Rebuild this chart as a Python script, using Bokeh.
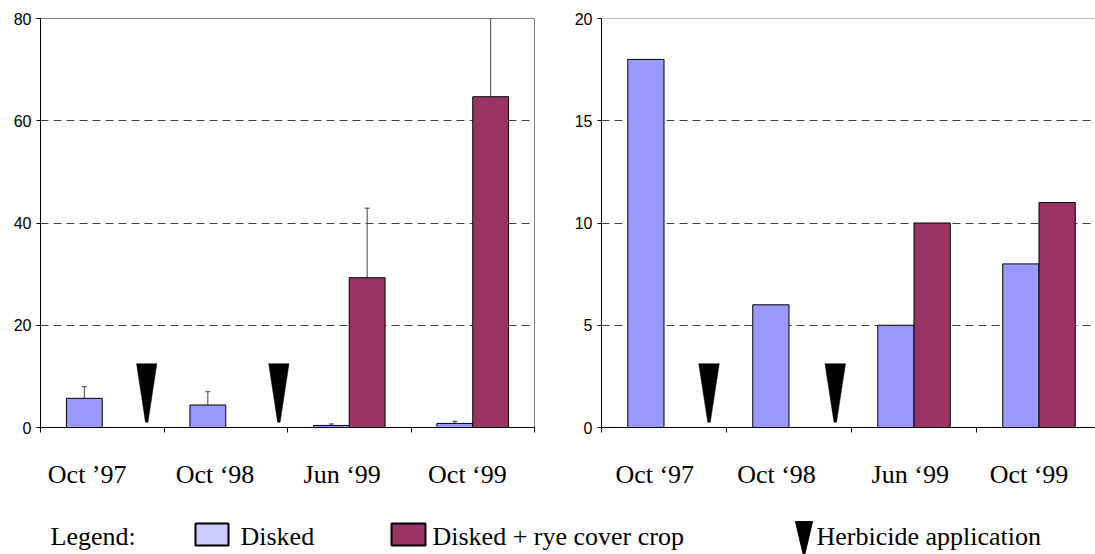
from bokeh.plotting import figure
from bokeh.models import FixedTicker, Range1d, Whisker, TeeHead, ColumnDataSource, Span
from bokeh.layouts import column, row
from bokeh.core.properties import value
from bokeh.embed import file_html
from bokeh.resources import INLINE

# ---- data -------------------------------------------------------------
left_labels = ["Oct \u201997", "Oct \u201898", "Jun \u201899", "Oct \u201899"]
right_labels = ["Oct \u201897", "Oct \u201898", "Jun \u201899", "Oct \u201899"]

left_disked = [5.7, 4.4, 0.4, 0.8]
left_disked_err = [2.3, 2.6, 0.3, 0.4]
left_rye = [None, None, 29.3, 64.7]
left_rye_err = [None, None, 13.6, 15.8]

right_disked = [18, 6, 5, 8]
right_rye = [None, None, 10, 11]

# herbicide applications, on the sampling-time axis (category units)
left_herbicide = [0.86, 1.93]
right_herbicide = [0.86, 1.87]

DISKED = "#9999FF"
RYE = "#993366"
SERIF = "Liberation Serif"
SANS = "Liberation Sans"
BAR_W = 0.29


def panel(labels, label_pos, disked, rye, herb, ymax, ystep, x_end,
          width, border_left, border_right, disked_err=None, rye_err=None,
          outline=True):
    p = figure(width=width, height=500, x_range=Range1d(0, x_end),
               y_range=Range1d(0, ymax), output_backend="svg",
               toolbar_location=None, min_border_left=border_left,
               min_border_right=border_right, min_border_top=18,
               min_border_bottom=73, background_fill_color="white",
               border_fill_color="white")

    # bars: Disked to the left of each category centre, rye to the right
    dx, dtop = [], []
    rx, rtop = [], []
    for i, (d, r) in enumerate(zip(disked, rye)):
        c = i + 0.5
        if d is not None:
            dx.append(c - BAR_W / 2)
            dtop.append(d)
        if r is not None:
            rx.append(c + BAR_W / 2)
            rtop.append(r)
    p.vbar(x=dx, top=dtop, bottom=0, width=BAR_W, fill_color=DISKED,
           line_color="black", line_width=1)
    p.vbar(x=rx, top=rtop, bottom=0, width=BAR_W, fill_color=RYE,
           line_color="black", line_width=1)

    # standard-error whiskers
    if disked_err is not None:
        ex, lo, hi = [], [], []
        for xs, vals, errs in ((dx, dtop, [e for e, d in zip(disked_err, disked) if d is not None]),
                               (rx, rtop, [e for e, r in zip(rye_err, rye) if r is not None])):
            for x, v, e in zip(xs, vals, errs):
                if e is None:
                    continue
                ex.append(x)
                lo.append(v)
                hi.append(v + e)
        src = ColumnDataSource(dict(x=ex, lower=lo, upper=hi))
        p.add_layout(Whisker(source=src, base="x", lower="lower", upper="upper",
                             dimension="height", line_color="#404040", line_width=1,
                             upper_head=TeeHead(size=5, line_color="#404040", line_width=1),
                             lower_head=None))

    # herbicide markers: narrow downward wedges
    top = ymax * 0.156
    tip = ymax * 0.0128
    hw = 0.082
    p.patches(xs=[[h - hw, h + hw, h + 0.01, h - 0.01] for h in herb],
              ys=[[top, top, tip, tip] for _ in herb],
              fill_color="black", line_color="black", line_width=0.5)

    # x axis: boundary ticks underneath, labels under each group
    ax = p.xaxis[0]
    ax.ticker = FixedTicker(ticks=label_pos, minor_ticks=[0, 1, 2, 3, 4])
    ax.major_label_overrides = {pos: lab for pos, lab in zip(label_pos, labels)}
    ax.major_tick_in = 0
    ax.major_tick_out = 0
    ax.minor_tick_in = 0
    ax.minor_tick_out = 5
    ax.minor_tick_line_color = "black"
    ax.axis_line_color = "black"
    ax.major_label_standoff = 27
    ax.major_label_text_font = SERIF
    ax.major_label_text_font_size = "26px"
    ax.major_label_text_color = "black"

    ay = p.yaxis[0]
    ay.ticker = FixedTicker(ticks=list(range(0, ymax + 1, ystep)), minor_ticks=[])
    ay.major_tick_in = 0
    ay.major_tick_out = 4
    ay.major_tick_line_color = "black"
    ay.axis_line_color = "black"
    ay.major_label_standoff = 5
    ay.major_label_text_font = SANS
    ay.major_label_text_font_size = "16px"
    ay.major_label_text_color = "black"

    p.xgrid.visible = False
    p.ygrid.ticker = FixedTicker(ticks=list(range(ystep, ymax, ystep)))
    p.ygrid.grid_line_color = "#404040"
    p.ygrid.grid_line_dash = "8 5"
    p.ygrid.grid_line_width = 1

    if outline:
        p.outline_line_color = "#808080"
    else:
        p.outline_line_color = None
        p.add_layout(Span(location=ymax, dimension="width",
                          line_color="#808080", line_width=1))
    return p


p1 = panel(left_labels, [0.378, 1.413, 2.443, 3.457], left_disked, left_rye,
           left_herbicide, 80, 20, 4, width=560, border_left=40,
           border_right=26, disked_err=left_disked_err, rye_err=left_rye_err)
p2 = panel(right_labels, [0.426, 1.40, 2.47, 3.42], right_disked, right_rye,
           right_herbicide, 20, 5, 494 / 125, width=535, border_left=41,
           border_right=0, outline=False)

# ---- legend strip --------------------------------------------------------
pl = figure(width=1095, height=54, x_range=Range1d(0, 1095), y_range=Range1d(0, 54),
            output_backend="svg", toolbar_location=None, min_border=0)
pl.axis.visible = False
pl.grid.visible = False
pl.outline_line_color = None

LEG_Y = 18
legend_text = dict(text_font=value(SERIF), text_font_size="26px",
                   text_baseline="middle", text_color="black")
pl.text(x=[50], y=[LEG_Y], text=["Legend:"], **legend_text)
pl.quad(left=[195], right=[228], bottom=[9], top=[31], fill_color="#CCCCFF",
        line_color="black", line_width=2)
pl.text(x=[240], y=[LEG_Y], text=["Disked"], **legend_text)
pl.quad(left=[391], right=[425], bottom=[9], top=[31], fill_color=RYE,
        line_color="black", line_width=2)
pl.text(x=[432], y=[LEG_Y], text=["Disked + rye cover crop"], **legend_text)
pl.patches(xs=[[795, 812, 804.5, 802.5]], ys=[[33, 33, 1, 1]],
           fill_color="black", line_color="black")
pl.text(x=[816], y=[LEG_Y], text=["Herbicide application"], **legend_text)

layout = column(row(p1, p2), pl)

with open("out.html", "w") as f:
    f.write(file_html(layout, INLINE))
